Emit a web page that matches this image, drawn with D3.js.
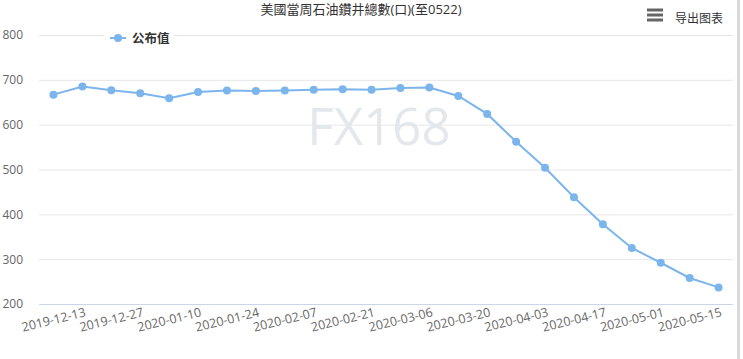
<!DOCTYPE html>
<html>
<head>
<meta charset="utf-8">
<script src="https://cdn.jsdelivr.net/npm/d3@7/dist/d3.min.js"></script>
<style>
html,body{margin:0;padding:0;background:#fff;}
svg{display:block;}
text{font-family:"Open Sans","Noto Sans CJK SC",sans-serif;}
</style>
</head>
<body>
<svg id="chart" width="743" height="359"></svg>
<script>
const title = "美國當周石油鑽井總數(口)(至0522)";
const seriesName = "公布值";
const categories = ["2019-12-06","2019-12-13","2019-12-20","2019-12-27","2020-01-03","2020-01-10",
  "2020-01-17","2020-01-24","2020-01-31","2020-02-07","2020-02-14","2020-02-21","2020-02-28",
  "2020-03-06","2020-03-13","2020-03-20","2020-03-27","2020-04-03","2020-04-10","2020-04-17",
  "2020-04-24","2020-05-01","2020-05-08","2020-05-15"];
const values = [667,685,677,670,659,673,676,675,676,678,679,678,682,683,664,624,562,504,438,378,325,292,258,237];
const yTicks = [200,300,400,500,600,700,800];

const svg = d3.select("#chart");
const pL = 39, pR = 733, pT = 35, pB = 304;

const x = d3.scaleBand().domain(categories).range([pL, pR]);
const y = d3.scaleLinear().domain([200, 800]).range([pB, pT]);

// watermark
svg.append("text").attr("x", 379).attr("y", 145).attr("text-anchor", "middle")
  .attr("font-size", 51).attr("fill", "#e3e8ed").attr("font-weight", 400)
  .text("FX168");

// grid
const yAxis = d3.axisLeft(y).tickValues(yTicks).tickSize(-(pR - pL)).tickPadding(15);
const gy = svg.append("g").attr("transform", `translate(${pL},0)`).call(yAxis);
gy.select(".domain").remove();
gy.selectAll(".tick line").attr("stroke", "#e6e6e6").attr("stroke-width", 1);
gy.selectAll(".tick").filter(d => d === 200).select("line").attr("stroke", "#ccd6eb");
gy.selectAll(".tick text").attr("fill", "#666").attr("font-size", 12).attr("x", -16);

// x axis labels
const xLabels = categories.filter((d, i) => i % 2 === 1);
const xAxis = d3.axisBottom(x).tickValues(xLabels).tickSize(0).tickPadding(0);
const gx = svg.append("g").attr("transform", `translate(0,${pB})`).call(xAxis);
gx.select(".domain").remove();
gx.selectAll(".tick text").attr("fill", "#666").attr("font-size", 12.5)
  .attr("text-anchor", "end").attr("dy", null).attr("y", 0)
  .attr("transform", "translate(4,12) rotate(-14)");

// line
const cx = d => x(d) + x.bandwidth() / 2;
const line = d3.line().x((d, i) => cx(categories[i])).y(d => y(d));
svg.append("path").datum(values).attr("d", line).attr("fill", "none")
  .attr("stroke", "#7cb5ec").attr("stroke-width", 2);
svg.append("g").selectAll("circle").data(values).enter().append("circle")
  .attr("cx", (d, i) => cx(categories[i])).attr("cy", d => y(d)).attr("r", 4)
  .attr("fill", "#7cb5ec");

// legend
const lg = svg.append("g").attr("transform", "translate(104,28)");
lg.append("rect").attr("width", 70).attr("height", 20).attr("fill", "#fff");
lg.append("line").attr("x1", 6).attr("x2", 22).attr("y1", 10).attr("y2", 10)
  .attr("stroke", "#7cb5ec").attr("stroke-width", 2);
lg.append("circle").attr("cx", 14).attr("cy", 10).attr("r", 4).attr("fill", "#7cb5ec");
lg.append("text").attr("x", 28).attr("y", 14.5).attr("font-size", 12.5)
  .attr("font-weight", "bold").attr("fill", "#333").text(seriesName);

// title
svg.append("text").attr("x", 361).attr("y", 14).attr("text-anchor", "middle")
  .attr("font-size", 13).attr("fill", "#333").text(title);

// export menu
[10, 15, 20].forEach(yy => svg.append("rect").attr("x", 647).attr("y", yy - 1.5)
  .attr("width", 16).attr("height", 3).attr("fill", "#666"));
svg.append("text").attr("x", 675).attr("y", 23).attr("font-size", 12).attr("fill", "#333").text("导出图表");

// right border
svg.append("rect").attr("x", 737).attr("y", 0).attr("width", 3).attr("height", 359).attr("fill", "#d9d9d9");
</script>
</body>
</html>
